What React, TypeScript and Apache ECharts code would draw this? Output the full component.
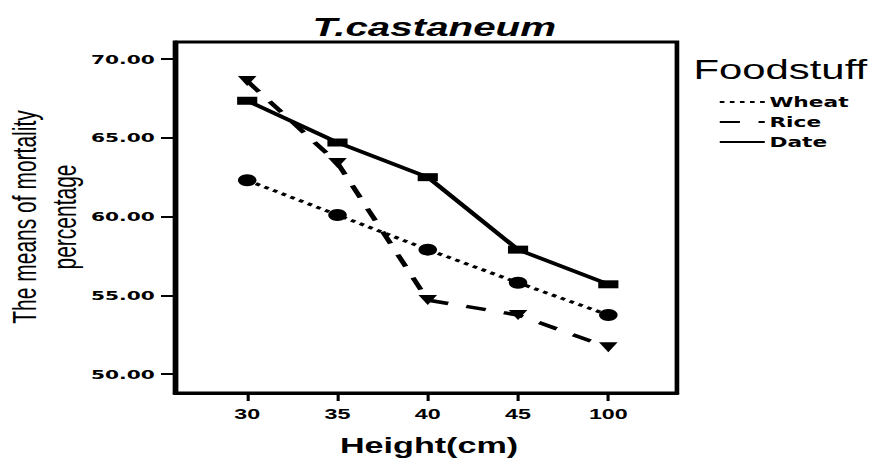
import React, { useEffect, useRef } from "react";
import * as echarts from "echarts";

const heights = ["30", "35", "40", "45", "100"];
const wheat = [62.3, 60.1, 57.9, 55.8, 53.75];
const rice = [68.6, 63.4, 54.7, 53.75, 51.7];
const date = [67.35, 64.7, 62.5, 57.9, 55.7];
const yTicks = [50, 55, 60, 65, 70];

const STRETCH = 1.5512;
const W = 566;
const H = 461;

export default function App() {
  const ref = useRef<HTMLDivElement>(null);
  useEffect(() => {
    const chart = echarts.init(ref.current!, null, { renderer: "svg", width: W, height: H });
    const idx = heights.map((_, i) => i);
    const toData = (arr: number[]) => arr.map((v, i) => [i, v]);
    const black = "#000";
    chart.setOption({
      animation: false,
      backgroundColor: "#fff",
      grid: {
        left: 112.8,
        right: 129.6,
        top: 42,
        bottom: 68,
        show: true,
        borderColor: black,
        borderWidth: 3,
        backgroundColor: "#fff",
      },
      xAxis: {
        type: "value",
        min: -0.8,
        max: 4.76,
        axisLine: { show: true, onZero: false, lineStyle: { color: black, width: 3 } },
        axisTick: { show: true, customValues: idx, length: 8, lineStyle: { color: black, width: 2 } },
        axisLabel: {
          customValues: idx,
          formatter: (v: number) => heights[Math.round(v)] ?? "",
          margin: 13,
          fontFamily: "Liberation Sans",
          fontWeight: "bold",
          fontSize: 15,
          color: black,
        },
        splitLine: { show: false },
      },
      yAxis: {
        type: "value",
        min: 48.8,
        max: 71.08,
        axisLine: { show: true, onZero: false, lineStyle: { color: black, width: 3 } },
        axisTick: { show: true, customValues: yTicks, length: 9, lineStyle: { color: black, width: 2 } },
        axisLabel: {
          customValues: yTicks,
          formatter: (v: number) => v.toFixed(2),
          margin: 13,
          fontFamily: "DejaVu Sans",
          fontWeight: "bold",
          fontSize: 13,
          color: black,
        },
        splitLine: { show: false },
      },
      legend: {
        orient: "vertical",
        left: 463,
        top: 95,
        padding: 0,
        itemWidth: 29,
        itemHeight: 10,
        itemGap: 6,
        itemStyle: { opacity: 0 },
        textStyle: { fontFamily: "DejaVu Sans", fontWeight: "bold", fontSize: 14, color: black, padding: [0, 0, 0, -2] },
        data: ["Wheat", "Rice", "Date"],
      },
      graphic: [
        {
          type: "text",
          x: 280,
          y: 27,
          style: {
            text: "T.castaneum",
            fontFamily: "Liberation Sans",
            fontStyle: "italic",
            fontWeight: "bold",
            fontSize: 26,
            textAlign: "center",
            textVerticalAlign: "middle",
            fill: black,
          },
        },
        {
          type: "text",
          x: 29,
          y: 217,
          rotation: Math.PI / 2,
          style: {
            text: "The means of mortality\npercentage",
            fontFamily: "Liberation Sans",
            fontSize: 21,
            lineHeight: 26,
            textAlign: "center",
            textVerticalAlign: "middle",
            fill: black,
          },
        },
        {
          type: "text",
          x: 276.6,
          y: 445,
          style: {
            text: "Height(cm)",
            fontFamily: "Liberation Sans",
            fontWeight: "bold",
            fontSize: 22,
            textAlign: "center",
            textVerticalAlign: "middle",
            fill: black,
          },
        },
        {
          type: "text",
          x: 447,
          y: 69,
          style: {
            text: "Foodstuff",
            fontFamily: "Liberation Sans",
            fontSize: 27,
            textAlign: "left",
            textVerticalAlign: "middle",
            fill: black,
          },
        },
      ],
      series: [
        {
          name: "Wheat",
          type: "line",
          data: toData(wheat),
          symbol: "circle",
          symbolSize: 12,
          itemStyle: { color: black },
          lineStyle: { color: black, width: 3, type: [3, 3.5] },
        },
        {
          name: "Rice",
          type: "line",
          data: toData(rice),
          symbol: "path://M0,0 L10,0 L5,9 Z",
          symbolSize: [12, 10],
          itemStyle: { color: black },
          lineStyle: { color: black, width: 3.5, type: [13, 12] },
        },
        {
          name: "Date",
          type: "line",
          data: toData(date),
          symbol: "rect",
          symbolSize: [13, 8],
          itemStyle: { color: black },
          lineStyle: { color: black, width: 3.5, type: "solid" },
        },
      ],
    });
    return () => chart.dispose();
  }, []);
  return (
    <div
      style={{
        position: "fixed",
        left: 0,
        top: 0,
        width: 878,
        height: 461,
        overflow: "hidden",
        background: "#fff",
      }}
    >
      <div
        ref={ref}
        style={{
          width: W,
          height: H,
          transform: `scale(${STRETCH},1)`,
          transformOrigin: "0 0",
        }}
      />
    </div>
  );
}
